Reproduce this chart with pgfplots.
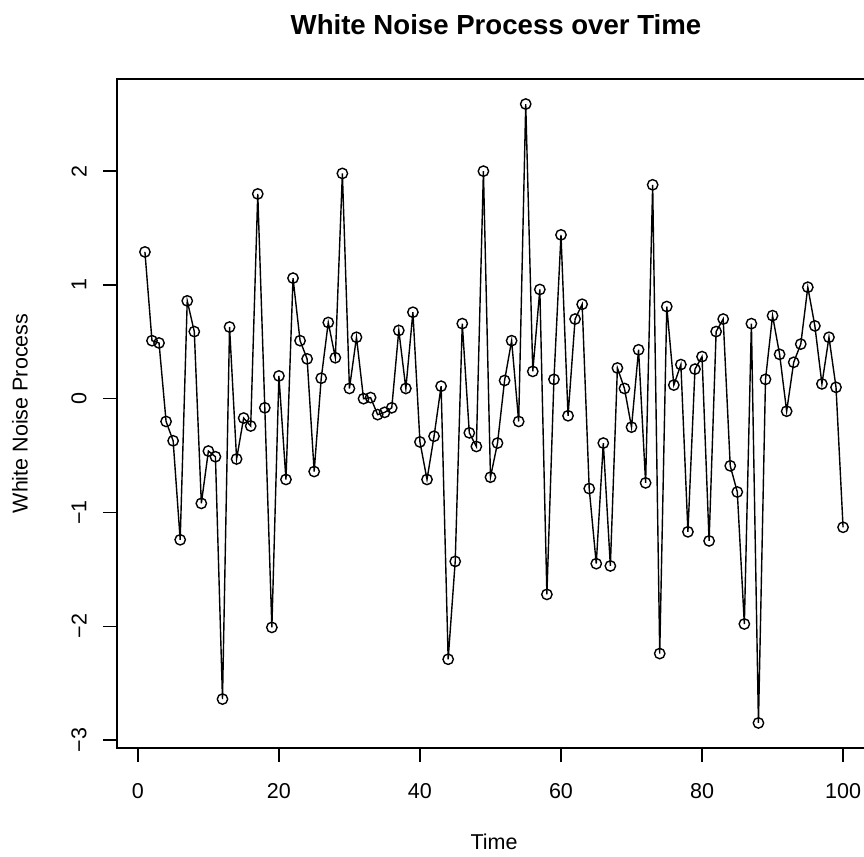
\documentclass[border=0pt]{standalone}
\usepackage{pgfplots}
\pgfplotsset{compat=1.18}
\usepackage{fontspec}
\setmainfont{Liberation Sans}
\begin{document}
\begin{tikzpicture}
\begin{axis}[
  scale only axis,
  width=377pt, height=334.5pt,
  xmin=-2.96, xmax=103.96,
  ymin=-3.07, ymax=2.81,
  axis line style={line width=0.7pt},
  xtick={0,20,40,60,80,100},
  ytick={-3,-2,-1,0,1,2},
  yticklabels={−3,−2,−1,0,1,2},
  xtick pos=bottom, ytick pos=left,
  tick align=outside,
  major tick length=7pt,
  tick style={line width=0.7pt, black},
  /pgf/number format/assume math mode=true,
  tick label style={font=\fontsize{10.75}{12}\selectfont},
  xticklabel style={anchor=center, yshift=-14.5pt},
  yticklabel style={xshift=-12pt, rotate=90, anchor=center},
  clip=false,
]
\addplot[black, line width=0.7pt, mark=o, mark size=2.6pt, mark options={line width=0.7pt}] coordinates {
(1,1.29) (2,0.51) (3,0.49) (4,-0.20) (5,-0.37) (6,-1.24) (7,0.86) (8,0.59) (9,-0.92) (10,-0.46)
(11,-0.51) (12,-2.64) (13,0.63) (14,-0.53) (15,-0.17) (16,-0.24) (17,1.80) (18,-0.08) (19,-2.01) (20,0.20)
(21,-0.71) (22,1.06) (23,0.51) (24,0.35) (25,-0.64) (26,0.18) (27,0.67) (28,0.36) (29,1.98) (30,0.09)
(31,0.54) (32,0.00) (33,0.01) (34,-0.14) (35,-0.12) (36,-0.08) (37,0.60) (38,0.09) (39,0.76) (40,-0.38)
(41,-0.71) (42,-0.33) (43,0.11) (44,-2.29) (45,-1.43) (46,0.66) (47,-0.30) (48,-0.42) (49,2.00) (50,-0.69)
(51,-0.39) (52,0.16) (53,0.51) (54,-0.20) (55,2.59) (56,0.24) (57,0.96) (58,-1.72) (59,0.17) (60,1.44)
(61,-0.15) (62,0.70) (63,0.83) (64,-0.79) (65,-1.45) (66,-0.39) (67,-1.47) (68,0.27) (69,0.09) (70,-0.25)
(71,0.43) (72,-0.74) (73,1.88) (74,-2.24) (75,0.81) (76,0.12) (77,0.30) (78,-1.17) (79,0.26) (80,0.37)
(81,-1.25) (82,0.59) (83,0.70) (84,-0.59) (85,-0.82) (86,-1.98) (87,0.66) (88,-2.85) (89,0.17) (90,0.73)
(91,0.39) (92,-0.11) (93,0.32) (94,0.48) (95,0.98) (96,0.64) (97,0.13) (98,0.54) (99,0.10) (100,-1.13)
};
\end{axis}
\node[anchor=center, font=\bfseries\fontsize{13.8}{16}\selectfont] at ([xshift=1pt,yshift=27.25pt]current axis.north) {White Noise Process over Time};
\node[anchor=center, font=\fontsize{10.75}{12}\selectfont] at ([yshift=-47pt]current axis.south) {Time};
\node[anchor=center, rotate=90, font=\fontsize{10.75}{12}\selectfont] at ([xshift=-48.5pt]current axis.west) {White Noise Process};
\pgfresetboundingbox
\path[use as bounding box] ([xshift=-58.5pt,yshift=-54.5pt]current axis.south west) rectangle ([xshift=373.5pt,yshift=374pt]current axis.south west);
\end{tikzpicture}
\end{document}
